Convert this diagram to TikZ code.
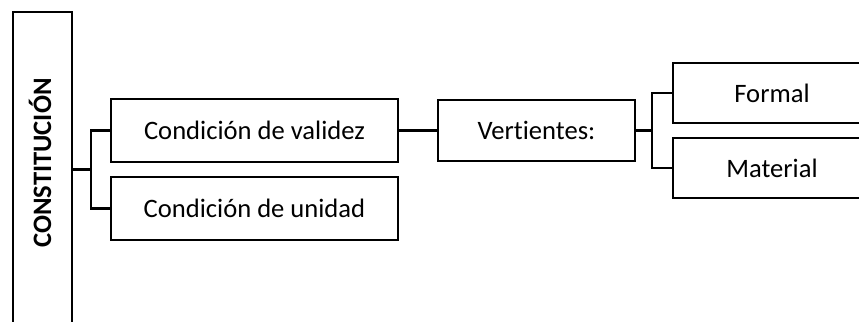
\documentclass[tikz,border=0pt]{standalone}
\usepackage{fontspec}
\setmainfont{Carlito}[Ligatures=NoCommon]
\usepackage{tikz}
\usetikzlibrary{calc, positioning}
\tikzstyle{box} = [rectangle, line width=1.2pt, minimum height=31.5pt, text centered, draw=black]
\tikzstyle{line} = [line width=1.2pt]

\begin{document}
\begin{tikzpicture}[x=0.5pt, y=-0.5pt, font=\fontsize{13.3}{15}\selectfont]
	\useasboundingbox (0,0) rectangle (859,322);
	\clip (0,0) rectangle (859,322);
	\node (Const) [box, minimum width=29.5pt, minimum height=164pt] at (42.5,176) {};
	\node (ConstText) [rotate=90, font=\fontsize{13.3}{15}\selectfont\bfseries] at (40,163) {CONSTITUCIÓN};
	\node (Validez) [box, minimum width=143.5pt] at (254.5,130.5) {Condición de validez};
	\node (Unidad) [box, minimum width=143.5pt] at (254.5,208.5) {Condición de unidad};
	\node (Vertientes) [box, minimum width=98.5pt, minimum height=30.5pt] at (536.5,130.5) {Vertientes:};
	\node (Formal) [box, minimum width=99pt, minimum height=30pt] at (772,93) {Formal};
	\node (Material) [box, minimum width=99pt, minimum height=30pt] at (772,168) {Material};
	\coordinate (Split1) at ($(Validez.west)!0.5!(Unidad.west) + (-19,0)$);
	\coordinate (Split2) at ($(Formal.west)!0.5!(Material.west) + (-20,0)$);
	\draw [line] (Validez.west) -- ++(-19,0) |- (Unidad.west);
	\draw [line] (Const.east |- Split1) -- (Split1);
	\draw [line] (Validez) -- (Vertientes);
	\draw [line] (Formal.west) -- ++(-20,0) |- (Material.west);
	\draw [line] (Vertientes.east) -- (Split2);
\end{tikzpicture}
\end{document}
